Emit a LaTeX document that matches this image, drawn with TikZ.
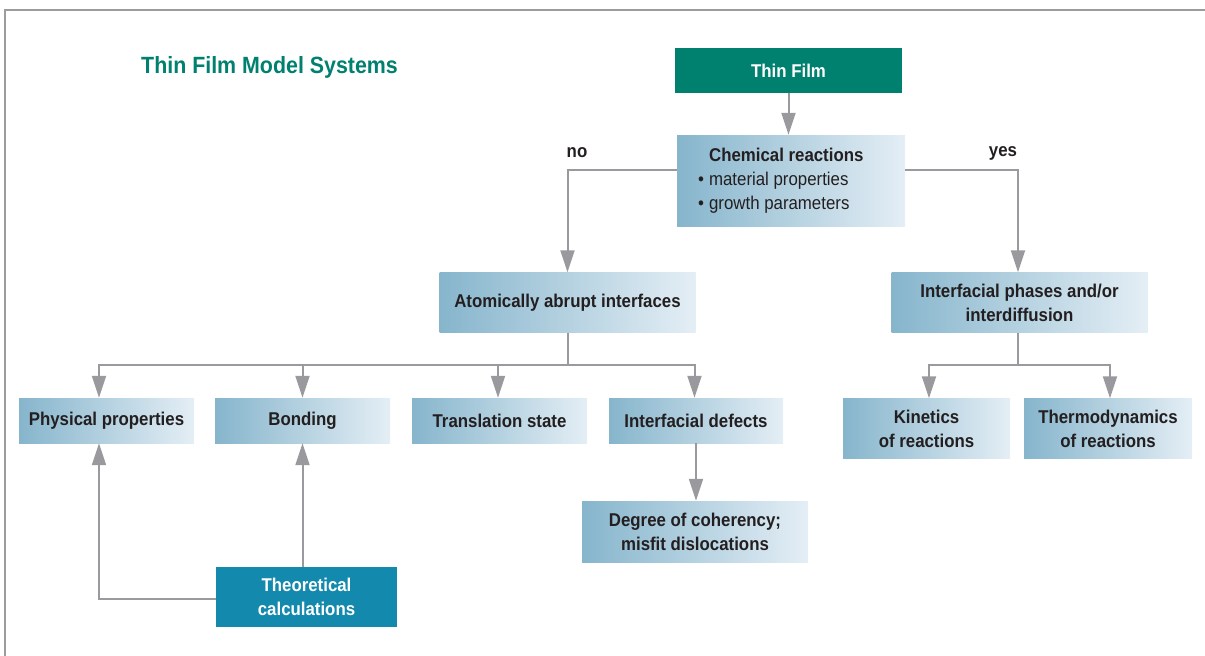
\documentclass[tikz,border=0pt]{standalone}
\usepackage{fontspec}
\setmainfont{Liberation Sans}[FakeStretch=0.91]
\usetikzlibrary{arrows.meta}
\definecolor{teal1}{HTML}{00806E}
\definecolor{theocol}{HTML}{1389AE}
\definecolor{gleft}{HTML}{86B5CC}
\definecolor{gright}{HTML}{E4EEF5}
\definecolor{linecol}{HTML}{9A9A9E}
\definecolor{txt}{HTML}{231F20}
\definecolor{framecol}{HTML}{9C9C9C}
\tikzset{
  gbox/.style={shading=axis, left color=gleft, right color=gright, shading angle=90,
    text=txt, font=\fontsize{18.5}{24}\selectfont\bfseries, align=center, inner sep=0pt},
  solidbox/.style={text=white, font=\fontsize{18.5}{24}\selectfont\bfseries, align=center, inner sep=0pt},
  conn/.style={draw=linecol, line width=2pt},
  arr/.style={conn, -{Triangle[width=14pt,length=22pt]}},
  lbl/.style={text=txt, font=\fontsize{18.5}{24}\selectfont\bfseries, inner sep=0pt}
}
\begin{document}
\begin{tikzpicture}[x=1pt,y=-1pt]
\useasboundingbox (0,0) rectangle (1205,656);
\draw[framecol, line width=2pt] (5,656) -- (5,10) -- (1205,10);
\node[anchor=west, text=teal1, font=\fontsize{23.5}{28}\selectfont\bfseries, inner sep=0pt] (title) at (141,67) {Thin Film Model Systems};

\node[solidbox, fill=teal1, minimum width=227pt, minimum height=45pt] (thin) at (788.5,70.5) {Thin Film};
\node[gbox, minimum width=228pt, minimum height=91pt] (chem) at (791,180.5) {};
\node[anchor=north west, text=txt, font=\fontsize{18.5}{24}\selectfont, inner sep=0pt, align=left] (chemtxt) at (698,144)
  {\begin{tabular}{@{}l@{\hspace{5pt}}l@{}}
   & \textbf{Chemical reactions}\\
   \textbullet & material properties\\
   \textbullet & growth parameters
   \end{tabular}};
\node[gbox, minimum width=256pt, minimum height=60pt] (atom) at (567.5,302.5) {Atomically abrupt interfaces};
\node[gbox, minimum width=256pt, minimum height=60pt] (phases) at (1019.5,302.5) {Interfacial phases and/or\\interdiffusion};
\node[gbox, minimum width=175pt, minimum height=45pt] (phys) at (106.5,420.5) {Physical properties};
\node[gbox, minimum width=175pt, minimum height=45pt] (bond) at (302.5,420.5) {Bonding};
\node[gbox, minimum width=175pt, minimum height=45pt] (trans) at (499.5,420.5) {Translation state};
\node[gbox, minimum width=174pt, minimum height=45pt] (defects) at (696,420.5) {Interfacial defects};
\node[gbox, minimum width=226pt, minimum height=61pt] (coher) at (695,531.5) {Degree of coherency;\\misfit dislocations};
\node[solidbox, fill=theocol, minimum width=181pt, minimum height=60pt] (theo) at (306.5,597) {Theoretical\\calculations};
\node[gbox, minimum width=167pt, minimum height=60pt] (kin) at (926.5,428.5) {Kinetics\\of reactions};
\node[gbox, minimum width=168pt, minimum height=60pt] (thermo) at (1108,428.5) {Thermodynamics\\of reactions};

\node[lbl] (no) at (577,153) {no};
\node[lbl] (yes) at (1003,153) {yes};

\draw[arr] (thin.south) -- (thin.south |- chem.north);
\draw[arr] ([yshift=10.5pt]chem.west) -| (atom.north);
\draw[arr] ([yshift=10.5pt]chem.east) -| ([xshift=-1.5pt]phases.north);

\coordinate (h1) at (567.5,364.5);
\draw[conn] (atom.south) -- (h1);
\draw[arr] (h1) -| ([xshift=-7.5pt]phys.north);
\draw[arr] (h1) -| (bond.north);
\draw[arr] (h1) -| ([xshift=-1.5pt]trans.north);
\draw[arr] (h1) -| ([xshift=-1.5pt]defects.north);
\draw[arr] (defects.south) -- (defects.south |- coher.north);

\draw[arr] (bond.south |- theo.north) -- (bond.south);
\draw[arr] ([yshift=-2pt]theo.west) -| ([xshift=-7.5pt]phys.south);

\coordinate (h2) at (1018,364.5);
\draw[conn] (h2 |- phases.south) -- (h2);
\draw[arr] (h2) -| ([xshift=2.5pt]kin.north);
\draw[arr] (h2) -| ([xshift=2pt]thermo.north);
\end{tikzpicture}
\end{document}
